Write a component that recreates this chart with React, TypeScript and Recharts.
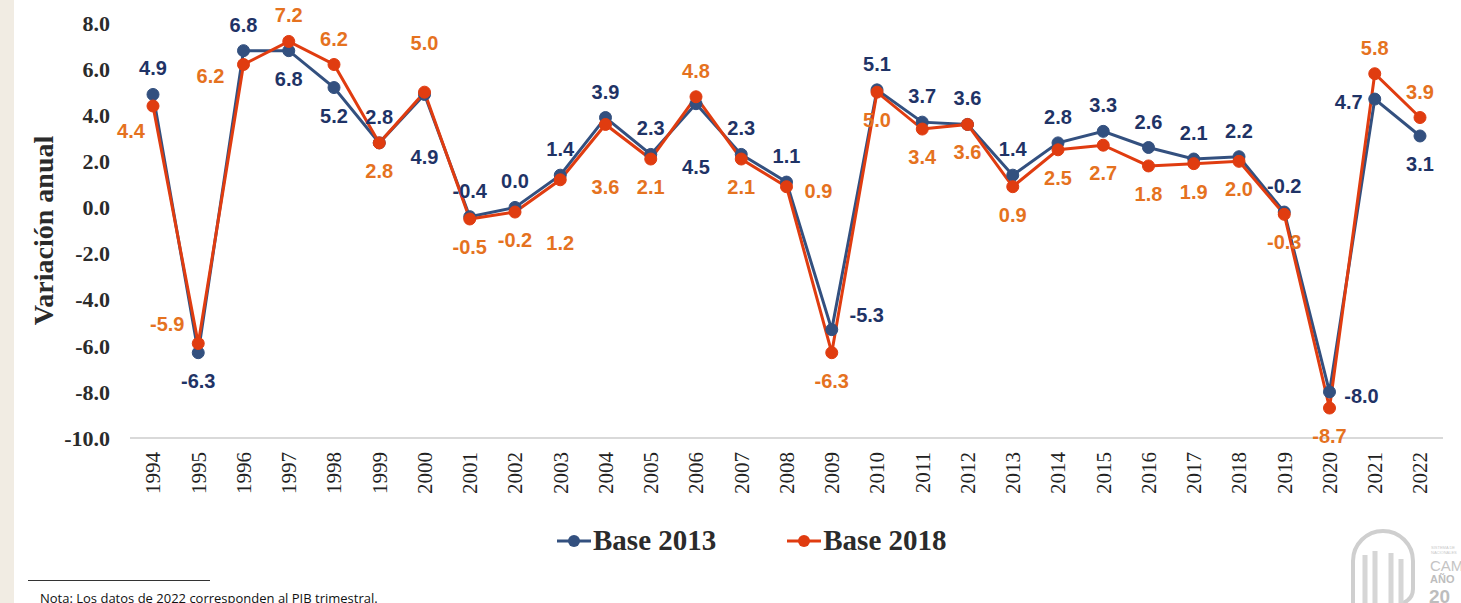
import React from 'react';
import { LineChart, Line, XAxis, YAxis, Legend } from 'recharts';

const years = ['1994','1995','1996','1997','1998','1999','2000','2001','2002','2003','2004','2005','2006','2007','2008','2009','2010','2011','2012','2013','2014','2015','2016','2017','2018','2019','2020','2021','2022'];
const base2013 = [4.9,-6.3,6.8,6.8,5.2,2.8,4.9,-0.4,0.0,1.4,3.9,2.3,4.5,2.3,1.1,-5.3,5.1,3.7,3.6,1.4,2.8,3.3,2.6,2.1,2.2,-0.2,-8.0,4.7,3.1];
const base2018 = [4.4,-5.9,6.2,7.2,6.2,2.8,5.0,-0.5,-0.2,1.2,3.6,2.1,4.8,2.1,0.9,-6.3,5.0,3.4,3.6,0.9,2.5,2.7,1.8,1.9,2.0,-0.3,-8.7,5.8,3.9];
const yTicks = [-10,-8,-6,-4,-2,0,2,4,6,8];
const seriesNames = ['Base 2013','Base 2018'];

// label placement codes (style, not data)
const place2013 = ['t','b','t','b','b','t','bb','t','t','t','t','t','bb','t','t','tr','t','t','t','t','t','t','t','t','t','t','r','ll','b'];
const place2018 = ['bl','tl','l','t','t','b','tt','b','b','bb','bb','b','t','b','r','b','b','b','b','b','b','b','b','b','b','b','b','t','t'];

const OFF: Record<string, [number, number]> = {
  t: [0, -26], tt: [0, -49], b: [0, 28], bb: [0, 63],
  l: [-33, 11], r: [32, 4], tr: [35, -15], bl: [-22, 25], tl: [-31, -19], ll: [-26, 3],
};

const NAVY_LINE = '#33507F';
const NAVY_TEXT = '#1F3366';
const RED_LINE = '#E03C10';
const ORANGE_TEXT = '#E5721F';

const data = years.map((y, i) => ({ year: y, b13: base2013[i], b18: base2018[i] }));

const makeLabel = (places: string[], color: string) => (props: any) => {
  const { x, y, value, index } = props;
  const [dx, dy] = OFF[places[index]] || [0, -26];
  return (
    <text
      x={x + dx}
      y={y + dy}
      dy="0.35em"
      textAnchor="middle"
      fill={color}
      style={{ fontFamily: '"Liberation Sans", Arial, sans-serif', fontWeight: 700, fontSize: 20 }}
    >
      {Number(value).toFixed(1)}
    </text>
  );
};

const YearTick = (props: any) => {
  const { x, y, payload } = props;
  const ty = y + 6;
  return (
    <text
      x={x}
      y={ty}
      dy="0.35em"
      textAnchor="end"
      transform={`rotate(-90 ${x} ${ty})`}
      fill="#222"
      style={{ fontFamily: '"Liberation Serif", serif', fontSize: 21, fontWeight: 400 }}
    >
      {payload.value}
    </text>
  );
};

const LegendContent = () => (
  <div style={{ display: 'flex', alignItems: 'center', fontFamily: '"Liberation Serif", serif', fontWeight: 700, fontSize: 29, color: '#2b2b2b' }}>
    {seriesNames.map((n, i) => (
      <div key={n} style={{ display: 'flex', alignItems: 'center', marginLeft: i === 0 ? 0 : 71 }}>
        <svg width={34} height={16}>
          <line x1={0} x2={34} y1={8} y2={8} stroke={i === 0 ? NAVY_LINE : RED_LINE} strokeWidth={3} />
          <circle cx={17} cy={8} r={6} fill={i === 0 ? NAVY_LINE : RED_LINE} />
        </svg>
        <span style={{ marginLeft: 2 }}>{n}</span>
      </div>
    ))}
  </div>
);

export default function App() {
  return (
    <div style={{ position: 'absolute', left: 0, top: 0, width: 1461, height: 603, background: '#fff', overflow: 'hidden' }}>
      <div style={{ position: 'absolute', left: 0, top: 0, width: 14, height: 603, background: '#F1ECE3' }} />
      <LineChart width={1461} height={603} data={data} margin={{ top: 23, right: 18, left: 0, bottom: 103 }}>
        <XAxis
          dataKey="year"
          interval={0}
          tickLine={false}
          axisLine={{ stroke: '#D9D9D9', strokeWidth: 2 }}
          height={62}
          padding={{ left: 23, right: 23 }}
          tick={<YearTick />}
        />
        <YAxis
          domain={[-10, 8]}
          ticks={yTicks}
          width={130}
          axisLine={false}
          tickLine={false}
          tickSize={0}
          tickMargin={20}
          tickFormatter={(v: number) => v.toFixed(1)}
          tick={{ fill: '#2b2b2b', fontFamily: '"Liberation Serif", serif', fontWeight: 700, fontSize: 22 }}
          label={{
            value: 'Variación anual',
            angle: -90,
            position: 'insideLeft',
            dx: 38,
            style: { textAnchor: 'middle', fill: '#2b2b2b', fontFamily: '"Liberation Serif", serif', fontWeight: 700, fontSize: 28 },
          }}
        />
        <Legend
          layout="vertical"
          align="center"
          verticalAlign="middle"
          content={<LegendContent />}
          wrapperStyle={{ position: 'absolute', left: 557, top: 524, width: 'auto' }}
        />
        <Line
          type="linear"
          dataKey="b13"
          name={seriesNames[0]}
          stroke={NAVY_LINE}
          strokeWidth={3}
          dot={{ r: 6, fill: NAVY_LINE, stroke: NAVY_LINE, strokeWidth: 1 }}
          activeDot={false}
          isAnimationActive={false}
          label={makeLabel(place2013, NAVY_TEXT)}
        />
        <Line
          type="linear"
          dataKey="b18"
          name={seriesNames[1]}
          stroke={RED_LINE}
          strokeWidth={3}
          dot={{ r: 6, fill: RED_LINE, stroke: RED_LINE, strokeWidth: 1 }}
          activeDot={false}
          isAnimationActive={false}
          label={makeLabel(place2018, ORANGE_TEXT)}
        />
      </LineChart>
      <div style={{ position: 'absolute', left: 28, top: 580, width: 182, height: 1, background: '#333' }} />
      <div style={{ position: 'absolute', left: 40, top: 589, fontFamily: '"Open Sans", "Noto Sans", sans-serif', fontSize: 13, color: '#111', whiteSpace: 'nowrap' }}>
        Nota: Los datos de 2022 corresponden al PIB trimestral.
      </div>
      <svg style={{ position: 'absolute', left: 1345, top: 525 }} width={116} height={78}>
        <path d="M8 78 L8 36 A30 30 0 0 1 68 36 L68 64 Q68 74 58 78" fill="none" stroke="#CFCFCF" strokeWidth={4} />
        <path d="M20 78 L20 30 M30 78 L30 26 M46 78 L46 28 M56 78 L56 34" stroke="#D6D6D6" strokeWidth={5} />
        <text x={86} y={24} fill="#C9C9C9" style={{ fontFamily: '"Liberation Sans", sans-serif', fontSize: 4 }}>SISTEMA DE</text>
        <text x={86} y={29} fill="#C9C9C9" style={{ fontFamily: '"Liberation Sans", sans-serif', fontSize: 4 }}>NACIONALES</text>
        <text x={85} y={46} fill="#C4C4C4" style={{ fontFamily: '"Liberation Sans", sans-serif', fontSize: 15 }}>CAM</text>
        <text x={85} y={58} fill="#BDBDBD" style={{ fontFamily: '"Liberation Sans", sans-serif', fontWeight: 700, fontSize: 11 }}>AÑO</text>
        <text x={84} y={78} fill="#BDBDBD" style={{ fontFamily: '"Liberation Sans", sans-serif', fontWeight: 700, fontSize: 19 }}>20</text>
      </svg>
    </div>
  );
}
